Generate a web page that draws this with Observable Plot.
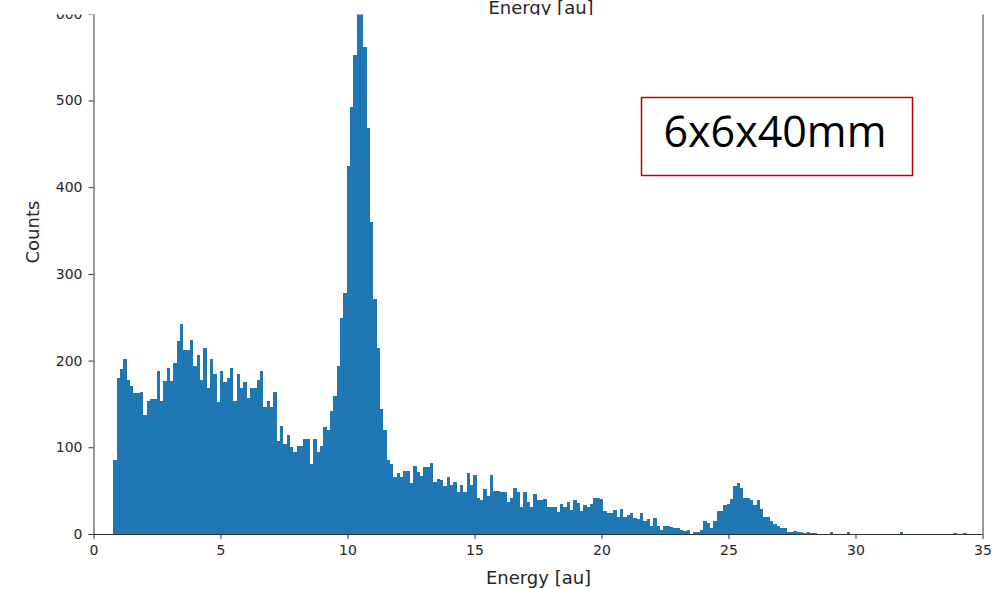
<!DOCTYPE html>
<html><head><meta charset="utf-8">
<script src="https://cdn.jsdelivr.net/npm/d3@7"></script>
<script src="https://cdn.jsdelivr.net/npm/@observablehq/plot@0.6"></script>
<style>
html,body{margin:0;padding:0;background:#fff;overflow:hidden;width:996px;height:589px}
#wrap{position:relative;width:996px;height:589px;overflow:hidden;background:#fff}
#chart{position:absolute;left:0;top:-80px}
#over{position:absolute;left:0;top:0;pointer-events:none}
</style></head><body>
<div id="wrap"><div id="chart"></div>
<svg id="over" width="996" height="589">
 <defs><clipPath id="strip"><rect x="0" y="0" width="996" height="15"/></clipPath></defs>
 <rect x="0" y="0" width="996" height="14.5" fill="#fff"/>
 <text x="541" y="14" text-anchor="middle" font-family="DejaVu Sans" font-size="18" fill="#262626" clip-path="url(#strip)">Energy [au]</text>
 <rect x="641.5" y="97.5" width="271" height="78" fill="#fff" stroke="#c00000" stroke-width="1.5"/>
 <text x="775" y="147" text-anchor="middle" font-family="Open Sans" font-size="43" fill="#000">6x6x40mm</text>
</svg></div>
<script>
const energyMin = 0.78, energyMax = 34.38;
const counts = [
 85,180,190,202,178,171,163,163,164,137,
 153,156,156,188,153,177,191,177,197,223,
 242,212,212,224,194,206,178,215,168,202,
 185,152,188,175,180,191,153,184,168,175,
 157,168,168,178,188,146,153,147,164,107,
 125,104,114,100,94,101,101,110,110,81,
 110,94,101,123,120,142,159,194,249,278,
 424,492,553,625,659,562,468,360,271,214,
 144,120,85,81,66,70,66,73,73,59,
 79,71,67,77,77,82,60,64,62,55,
 66,56,60,49,57,48,70,57,68,42,
 39,52,44,68,50,50,49,49,37,42,
 53,49,31,48,37,31,46,39,39,40,
 31,31,31,25,35,31,37,28,39,36,
 27,33,31,35,42,42,40,27,24,24,
 28,20,29,20,22,24,19,17,24,15,
 17,9,18,9,5,9,9,8,7,7,
 5,3,5,0,2,2,5,15,13,7,
 15,26,27,34,35,40,55,59,53,42,
 42,39,34,39,29,20,20,15,12,9,
 7,7,2,2,4,2,2,1,2,1,
 1,0,0,0,0,2,0,0,0,0,
 2,0,0,0,0,0,0,0,0,0,
 0,0,0,0,0,0,2,0,0,0,
 0,0,0,0,0,0,0,0,0,0,
 0,0,1,0,0,1
];
const xTicks = [0,5,10,15,20,25,30,35];
const yTicks = [0,100,200,300,400,500,600];
const yMax = 692;
const n = counts.length, w = (energyMax - energyMin) / n;
const bins = counts.map((c, i) => ({x1: energyMin + i * w, x2: energyMin + (i + 1) * w, count: c})).filter(d => d.count > 0);
const plot = Plot.plot({
  width: 996, height: 669, marginLeft: 93.5, marginRight: 13.5, marginTop: 14, marginBottom: 55,
  style: {fontFamily: "DejaVu Sans", fontSize: "14px", color: "#262626", background: "white"},
  x: {domain: [0, 35]},
  y: {domain: [0, yMax]},
  marks: [
    Plot.rectY(bins, {x1: "x1", x2: "x2", y: "count", fill: "#1f77b4", inset: 0, shapeRendering: "crispEdges"}),
    Plot.ruleX([0, 35], {stroke: "#333"}),
    Plot.ruleY([0], {stroke: "#333"}),
    Plot.axisX({ticks: xTicks, tickSize: 5, tickPadding: 6, fontSize: 14, label: null, stroke: "#333"}),
    Plot.axisY({ticks: yTicks, tickSize: 5, tickPadding: 6.5, fontSize: 14, label: null, stroke: "#333"}),
    Plot.text(["Energy [au]"], {text: d => d, frameAnchor: "bottom", dy: 49, lineAnchor: "bottom", fontSize: 18}),
    Plot.text(["Counts"], {text: d => d, frameAnchor: "left", dx: -61, dy: 29, rotate: -90, fontSize: 18})
  ]
});
document.getElementById("chart").appendChild(plot);
</script></body></html>
